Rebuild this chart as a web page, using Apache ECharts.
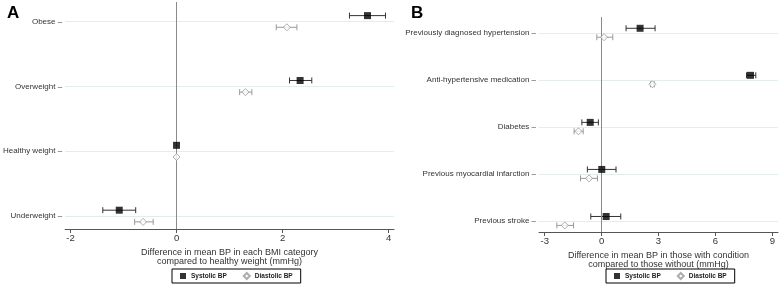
<!DOCTYPE html>
<html>
<head>
<meta charset="utf-8">
<script src="https://cdn.jsdelivr.net/npm/echarts@6/dist/echarts.min.js"></script>
<style>
  html, body { margin: 0; padding: 0; background: #fff; }
  #main { width: 780px; height: 285px; }
</style>
</head>
<body>
<div id="main"></div>
<script>
// panel A, top to bottom
var bmiCats = ['Obese', 'Overweight', 'Healthy weight', 'Underweight'];
var bmiSys = [3.6, 2.33, 0, -1.08];
var bmiSysLo = [3.26, 2.13, 0, -1.39];
var bmiSysHi = [3.94, 2.55, 0, -0.77];
var bmiDia = [2.08, 1.30, 0, -0.63];
var bmiDiaLo = [1.88, 1.19, 0, -0.79];
var bmiDiaHi = [2.27, 1.42, 0, -0.44];
var bmiTicks = [-2, 0, 2, 4];

// panel B, top to bottom
var condCats = ['Previously diagnosed hypertension', 'Anti-hypertensive medication', 'Diabetes', 'Previous myocardial infarction', 'Previous stroke'];
var condSys = [2.03, 7.85, -0.6, 0.01, 0.24];
var condSysLo = [1.29, 7.64, -1.04, -0.75, -0.57];
var condSysHi = [2.82, 8.13, -0.17, 0.76, 1.01];
var condDia = [0.13, 2.68, -1.22, -0.66, -1.94];
var condDiaLo = [-0.25, 2.58, -1.45, -1.11, -2.36];
var condDiaHi = [0.59, 2.78, -0.97, -0.22, -1.48];
var condTicks = [-3, 0, 3, 6, 9];

var chart = echarts.init(document.getElementById('main'));

var FONT = 'Liberation Sans, Arial, sans-serif';

// y position of category i (counted from top) on a bottom-up value axis
function ypos(cats, i) { return cats.length - i; }

function errBars(cats, lo, hi, off, color, gi) {
  var d = [];
  for (var i = 0; i < cats.length; i++) {
    if (hi[i] - lo[i] > 0) d.push([lo[i], hi[i], ypos(cats, i) + off]);
  }
  return {
    type: 'custom', xAxisIndex: gi, yAxisIndex: gi, silent: true, z: 3,
    encode: { x: [0, 1], y: 2 },
    data: d,
    renderItem: function (params, api) {
      var a = api.coord([api.value(0), api.value(2)]);
      var b = api.coord([api.value(1), api.value(2)]);
      var st = { stroke: color, lineWidth: 1 };
      return {
        type: 'group',
        children: [
          { type: 'line', shape: { x1: a[0], y1: a[1], x2: b[0], y2: b[1] }, style: st },
          { type: 'line', shape: { x1: a[0], y1: a[1] - 3, x2: a[0], y2: a[1] + 3 }, style: st },
          { type: 'line', shape: { x1: b[0], y1: b[1] - 3, x2: b[0], y2: b[1] + 3 }, style: st }
        ]
      };
    }
  };
}

function points(cats, vals, off, name, gi) {
  var d = vals.map(function (v, i) { return [v, ypos(cats, i) + off]; });
  var sys = name === 'Systolic BP';
  return {
    name: name, type: 'scatter', xAxisIndex: gi, yAxisIndex: gi, z: 5,
    symbol: sys ? 'rect' : 'diamond',
    symbolSize: 7,
    itemStyle: sys ? { color: '#000' } : { color: '#fff', borderColor: '#999', borderWidth: 1 },
    data: d
  };
}

function refLines(cats, gi) {
  var d = cats.map(function (c, i) { return { yAxis: ypos(cats, i) }; });
  d.push({ xAxis: 0, lineStyle: { color: '#8a8a8a', width: 1 } });
  return {
    type: 'line', xAxisIndex: gi, yAxisIndex: gi, data: [], silent: true,
    markLine: {
      silent: true, symbol: 'none', label: { show: false },
      lineStyle: { color: '#e2eeee', width: 1, type: 'solid' },
      data: d, animation: false
    }
  };
}

function xAxis(gi, min, max, ticks, name) {
  return {
    gridIndex: gi, type: 'value', min: min, max: max,
    name: name, nameLocation: 'middle', nameGap: 16,
    nameTextStyle: { fontFamily: FONT, fontSize: 9, color: '#333', lineHeight: 9 },
    axisLine: { lineStyle: { color: '#555' } },
    axisTick: { show: true, length: 4, customValues: ticks, lineStyle: { color: '#555' } },
    axisLabel: { customValues: ticks, fontFamily: FONT, fontSize: 9.5, color: '#333', margin: 4 },
    splitLine: { show: false }
  };
}

function yAxis(gi, cats, min, max) {
  var vals = cats.map(function (c, i) { return ypos(cats, i); });
  return {
    gridIndex: gi, type: 'value', min: min, max: max,
    axisLine: { show: false },
    axisTick: { show: false },
    axisLabel: {
      customValues: vals, fontFamily: FONT, fontSize: 8, color: '#333', margin: 3,
      formatter: function (v) { return cats[cats.length - Math.round(v)] + ' \u2013'; }
    },
    splitLine: { show: false }
  };
}

function legend(left) {
  return {
    left: left, top: 269, orient: 'horizontal',
    borderColor: '#000', borderWidth: 1, padding: [3, 8, 3, 8],
    itemWidth: 6, itemHeight: 6, itemGap: 16,
    textStyle: { fontFamily: FONT, fontSize: 6.5, fontWeight: 'bold', color: '#222' },
    data: ['Systolic BP', 'Diastolic BP'],
    selectedMode: false
  };
}

var option = {
  backgroundColor: '#fff',
  animation: false,
  title: [
    { text: 'A', left: 2, top: 0, textStyle: { fontFamily: FONT, fontSize: 17, fontWeight: 'bold', color: '#000' } },
    { text: 'B', left: 406, top: 0, textStyle: { fontFamily: FONT, fontSize: 17, fontWeight: 'bold', color: '#000' } }
  ],
  legend: [legend(172), legend(606)],
  grid: [
    { left: 63, top: 2, width: 331, height: 227 },
    { left: 539, top: 17, width: 239, height: 215 }
  ],
  xAxis: [
    xAxis(0, -2.1, 4.1, bmiTicks, 'Difference in mean BP in each BMI category\ncompared to healthy weight (mmHg)'),
    xAxis(1, -3.3, 9.3, condTicks, 'Difference in mean BP in those with condition\ncompared to those without (mmHg)')
  ],
  yAxis: [
    yAxis(0, bmiCats, 0.8, 4.3),
    yAxis(1, condCats, 0.77, 5.34)
  ],
  series: [
    refLines(bmiCats, 0),
    errBars(bmiCats, bmiSysLo, bmiSysHi, 0.09, '#333', 0),
    errBars(bmiCats, bmiDiaLo, bmiDiaHi, -0.09, '#999', 0),
    points(bmiCats, bmiSys, 0.09, 'Systolic BP', 0),
    points(bmiCats, bmiDia, -0.09, 'Diastolic BP', 0),
    refLines(condCats, 1),
    errBars(condCats, condSysLo, condSysHi, 0.1, '#333', 1),
    errBars(condCats, condDiaLo, condDiaHi, -0.09, '#999', 1),
    points(condCats, condSys, 0.1, 'Systolic BP', 1),
    points(condCats, condDia, -0.09, 'Diastolic BP', 1)
  ]
};

chart.setOption(option);
</script>
</body>
</html>
